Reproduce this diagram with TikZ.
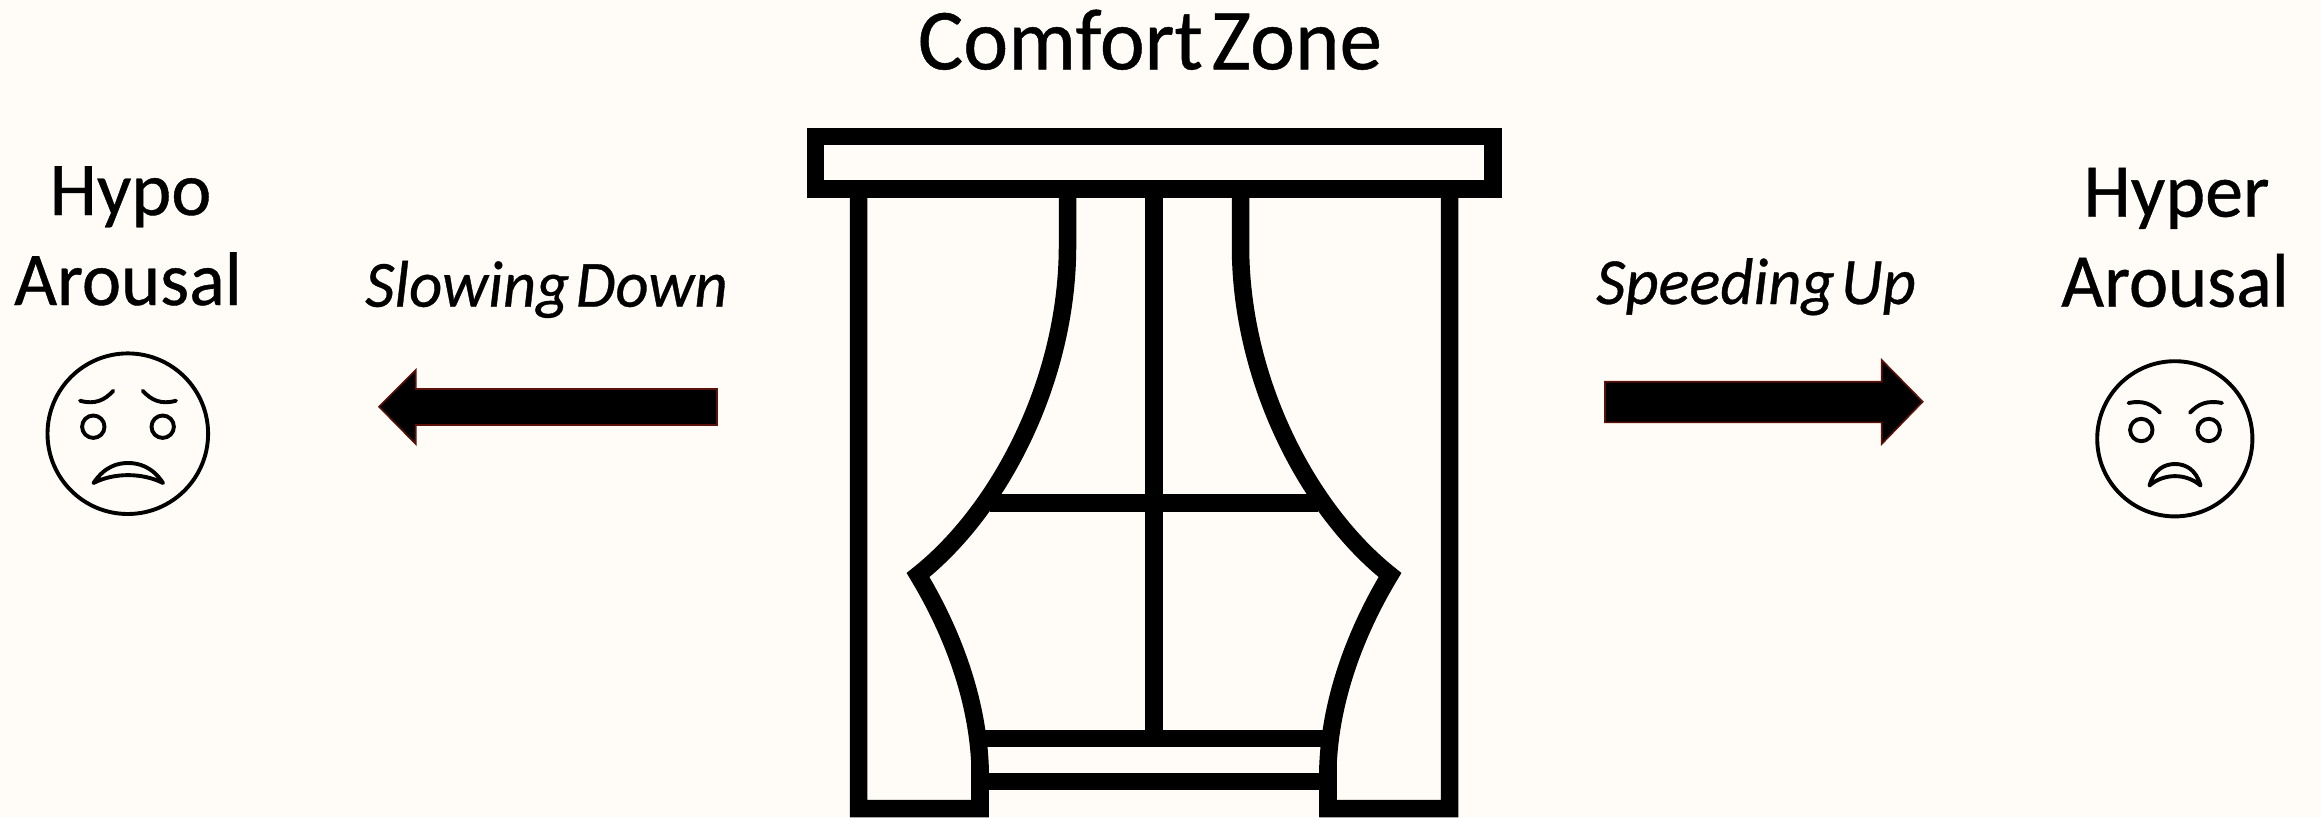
\documentclass[tikz,border=0pt]{standalone}
\usepackage{fontspec}
\setmainfont{Carlito}
\newfontfamily\tightfont[FakeBold=0.5,WordSpace=0.45,FakeStretch=0.978]{Carlito}
\newfontfamily\plainfont[FakeBold=0.5]{Carlito}
\definecolor{paper}{HTML}{FFFCF8}
\definecolor{arrowedge}{HTML}{5A1208}
\tikzset{
  heavy/.style={draw=black,line width=17.5pt,miter limit=10,line join=miter},
  blockarrow/.style={draw=arrowedge,fill=black,line width=1.6pt,line join=miter},
  faceline/.style={draw=black,line width=3.9pt,line cap=round,line join=round},
  bigtext/.style={anchor=base,inner sep=0pt,font=\tightfont\fontsize{76}{76}\selectfont},
  shorttext/.style={anchor=base,inner sep=0pt,font=\plainfont\fontsize{76}{76}\selectfont},
  titletext/.style={anchor=base,inner sep=0pt,font=\tightfont\fontsize{87}{87}\selectfont},
  slanttext/.style={anchor=base,inner sep=0pt,font=\tightfont\fontsize{66}{66}\selectfont\itshape}
}
\begin{document}
\begin{tikzpicture}[x=1pt,y=-1pt]
\useasboundingbox (0,0) rectangle (2321,817);
\fill[paper] (0,0) rectangle (2321,817);
\begin{scope}
\clip (0,0) rectangle (2321,817);
% rails and mullion
\draw[heavy] (1154,197) -- (1154,738);
\draw[heavy] (990,503) -- (1318,503);
\draw[heavy] (976,738.5) -- (1332,738.5);
\draw[heavy] (980,781.5) -- (1328,781.5);
% left curtain and frame
\draw[heavy] (1067.5,190) -- (1067.5,246)
  .. controls (1067.5,380) and (1000,510) .. (918,575)
  .. controls (950,628) and (977,695) .. (980,765)
  -- (980,808.5) -- (858.5,808.5) -- (858.5,190);
\draw[heavy] (980,765) -- (980,817);
% right curtain and frame
\draw[heavy] (1240.5,190) -- (1240.5,246)
  .. controls (1240.5,380) and (1308,510) .. (1390,575)
  .. controls (1358,628) and (1331,695) .. (1328,765)
  -- (1328,808.5) -- (1449.5,808.5) -- (1449.5,190);
\draw[heavy] (1328,765) -- (1328,817);
% pelmet
\draw[heavy] (815.5,136.5) rectangle (1493,189);
\end{scope}
% arrows
\draw[blockarrow] (379,406.7) -- (415.7,370) -- (415.7,389) -- (717,389) -- (717,425) -- (415.7,425) -- (415.7,444) -- cycle;
\draw[blockarrow] (1605,381.7) -- (1881.7,381.7) -- (1881.7,360) -- (1922.7,401.7) -- (1881.7,444) -- (1881.7,422.3) -- (1605,422.3) -- cycle;
% left face
\draw[faceline] (127.8,433.7) circle (80.3);
\draw[faceline] (93.3,426.7) circle (11.2);
\draw[faceline] (162.7,426.7) circle (11.2);
\draw[faceline] (80,400.7) .. controls (95,405) and (105,400) .. (113.3,390.7);
\draw[faceline] (176,400.7) .. controls (161,405) and (151,400) .. (142.7,390.7);
\draw[faceline,fill=paper] (93.5,483) .. controls (105,466) and (118,463) .. (128,463)
  .. controls (138,463) and (152,466) .. (163,483)
  .. controls (142,472.5) and (114,472.5) .. cycle;
% right face
\draw[faceline] (2174.8,438.8) circle (77.6);
\draw[faceline] (2141.3,430) circle (11.2);
\draw[faceline] (2208.7,430) circle (11.2);
\draw[faceline] (2128.5,403) .. controls (2143,400) and (2152,404) .. (2160,412.7);
\draw[faceline] (2222,403) .. controls (2207,400) and (2198,404) .. (2190,412.7);
\draw[faceline,fill=paper] (2149.5,485.5) .. controls (2154,469) and (2165,464) .. (2175,464)
  .. controls (2185,464) and (2196,469) .. (2200.5,485.5)
  .. controls (2186,473) and (2164,473) .. cycle;
% labels
\node[titletext] (title) at (1150,69.3) {Comfort Zone};
\node[shorttext] (hypo) at (130.5,215) {Hypo};
\node[bigtext] (aroa) at (128,305) {Arousal};
\node[shorttext] (hyper) at (2176.5,216.7) {Hyper};
\node[bigtext] (arob) at (2175,306.7) {Arousal};
\node[slanttext] (slow) at (546.5,306.7) {Slowing Down};
\node[slanttext] (speed) at (1756,304) {Speeding Up};
\end{tikzpicture}
\end{document}
